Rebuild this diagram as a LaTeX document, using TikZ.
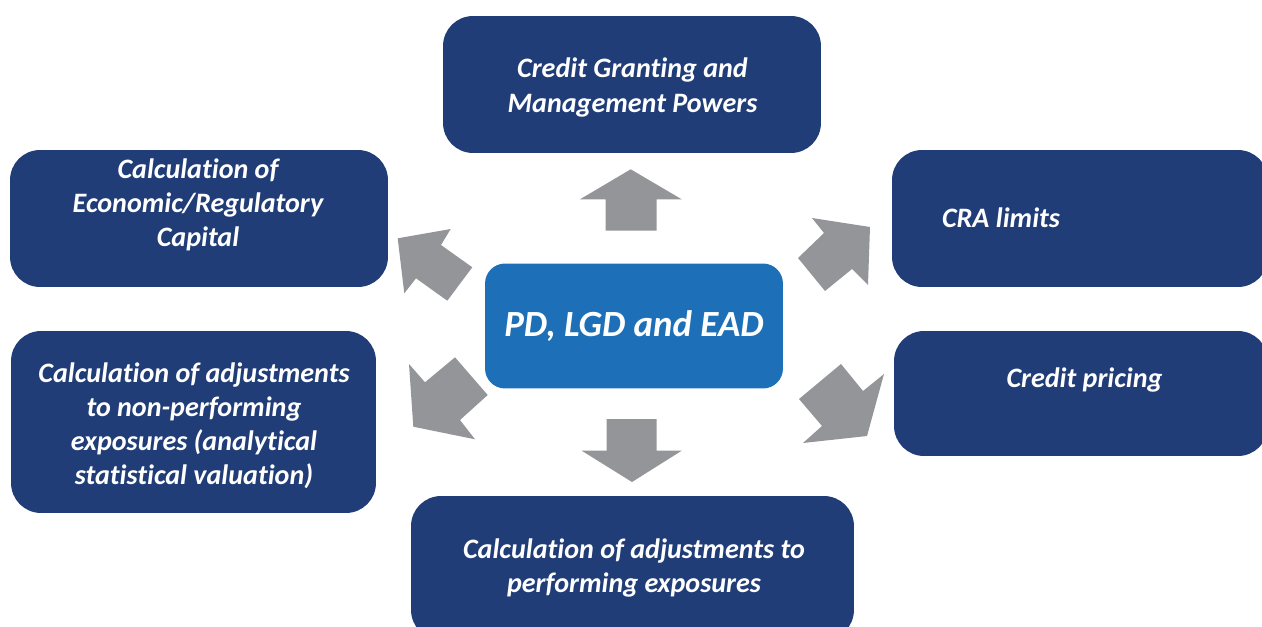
\documentclass[tikz,border=0pt]{standalone}
\usepackage{fontspec}
\setmainfont{Carlito}[Ligatures=CommonOff]
\usepackage{tikz}
\usetikzlibrary{positioning}

\definecolor{navy}{RGB}{33,61,119}
\definecolor{midblue}{RGB}{29,112,183}
\definecolor{arrowgrey}{RGB}{147,149,152}

\tikzset{
    darkbox/.style={fill=navy, rounded corners=0.6cm, inner sep=0pt},
    centrebox/.style={fill=midblue, rounded corners=0.4cm, text=white,
        font=\fontsize{21}{25}\selectfont\bfseries\itshape,
        minimum width=5.96cm, minimum height=2.5cm},
    boxtext/.style={text=white, align=center,
        font=\fontsize{16}{19.4}\selectfont\bfseries\itshape},
    blockarrow/.style={fill=arrowgrey}
}

\begin{document}
\begin{tikzpicture}[x=0.02cm, y=-0.02cm]
        \useasboundingbox (0,0) rectangle (1262,626);
        \clip (0,0) rectangle (1262,626);

        \node[darkbox, minimum width=7.56cm, minimum height=2.74cm] (grant) at (632,84.5) {};
        \node[darkbox, minimum width=7.56cm, minimum height=2.74cm] (capital) at (199,218.5) {};
        \node[darkbox, minimum width=7.52cm, minimum height=2.74cm] (cra) at (1080,218.5) {};
        \node[darkbox, minimum width=7.48cm, minimum height=2.5cm] (pricing) at (1081,393.5) {};
        \node[darkbox, minimum width=7.3cm, minimum height=3.64cm] (nonperf) at (193.5,422) {};
        \node[darkbox, minimum width=8.86cm, minimum height=2.88cm] (perf) at (632.5,568) {};
        \node[centrebox] (pd) at (634,326) {PD, LGD and EAD};

        \node[boxtext] (grant-t) at (632.5,87.5) {Credit Granting and\\Management Powers};
        \node[boxtext] (capital-t) at (198,204.5) {Calculation of\\Economic/Regulatory\\Capital};
        \node[boxtext] (cra-t) at (1001,218) {CRA limits};
        \node[boxtext] (pricing-t) at (1084.5,380) {Credit pricing};
        \node[boxtext] (nonperf-t) at (194,426) {Calculation of adjustments\\to non-performing\\exposures (analytical\\statistical valuation)};
        \node[boxtext] (perf-t) at (634,568) {Calculation of adjustments to\\performing exposures};

        \fill[blockarrow] (630.7,169.3) -- (681.7,199.3) -- (656.7,199.3) -- (656.7,230.7)
            -- (605.7,230.7) -- (605.7,199.3) -- (580,199.3) -- cycle;
        \fill[blockarrow] (632,482) -- (681.7,450.7) -- (656.7,450.7) -- (656.7,419)
            -- (606.7,419) -- (606.7,450.7) -- (581.7,450.7) -- cycle;
        \fill[blockarrow] (397.7,238.3) -- (450.7,229) -- (441,245) -- (472.3,267.3)
            -- (447.3,300.7) -- (416,278.3) -- (404.3,293.3) -- cycle;
        \fill[blockarrow] (413.3,426.7) -- (409,364) -- (425,382.3) -- (455,357.3)
            -- (487.7,395) -- (460,420) -- (475,439.3) -- cycle;
        \fill[blockarrow] (870,227) -- (812,218) -- (824,233) -- (798,258)
            -- (825,291) -- (852,269) -- (868,285) -- cycle;
        \fill[blockarrow] (867,436) -- (884,374) -- (863,391) -- (841,364)
            -- (799,399) -- (822,426) -- (803,443) -- cycle;
\end{tikzpicture}
\end{document}
